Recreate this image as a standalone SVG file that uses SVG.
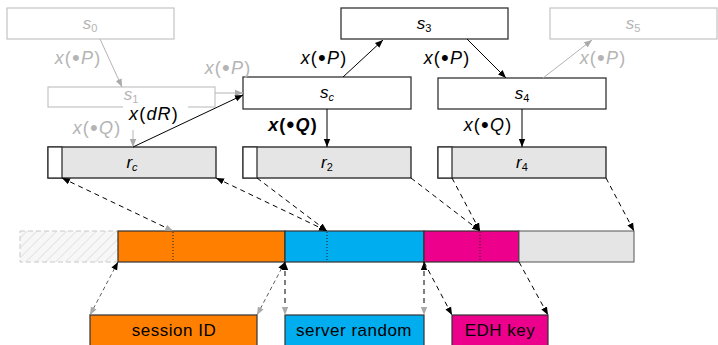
<svg xmlns="http://www.w3.org/2000/svg" width="718" height="345" viewBox="0 0 718 345">
<style>
.box{fill:#fff;stroke:#333;stroke-width:1.3}
.gbox{fill:#fff;stroke:#c4c4c4;stroke-width:1.2}
.rbox{fill:#e5e5e5;stroke:#222;stroke-width:1.3}
.t{font-family:"Liberation Sans",Arial,sans-serif;font-size:17px;text-anchor:middle;fill:#000}
.g{fill:#b4b4b4}
.i{font-style:italic}
.sub{font-size:11px}
.b{font-size:22px}
.lbl{font-family:"Liberation Sans",Arial,sans-serif;font-size:18px;text-anchor:middle;fill:#000;letter-spacing:1.2px}
.lbl.g{fill:#b4b4b4}
.bt{font-family:"Liberation Sans",Arial,sans-serif;font-size:17px;text-anchor:middle;fill:#000;letter-spacing:0.5px}
.ln{fill:none;stroke:#000;stroke-width:1}
.gl{fill:none;stroke:#b4b4b4;stroke-width:1}
.dsh{fill:none;stroke:#000;stroke-width:1;stroke-dasharray:5,4}
.dsh2{fill:none;stroke:#333;stroke-width:0.8;stroke-dasharray:4,3}
.dot{stroke:#222;stroke-width:1;stroke-dasharray:1,2}
.seg{stroke:#333;stroke-width:1.2}
</style>
<defs>
<marker id="ab" viewBox="0 0 10 10" refX="10" refY="5" markerWidth="8" markerHeight="8" markerUnits="userSpaceOnUse" orient="auto-start-reverse"><path d="M0,1 L10,5 L0,9 z" fill="#000"/></marker>
<marker id="ag" viewBox="0 0 10 10" refX="10" refY="5" markerWidth="8" markerHeight="8" markerUnits="userSpaceOnUse" orient="auto-start-reverse"><path d="M0,1 L10,5 L0,9 z" fill="#aaa"/></marker>
<pattern id="hatch" patternUnits="userSpaceOnUse" width="7" height="7" patternTransform="rotate(45)"><rect width="7" height="7" fill="#f7f7f7"/><line x1="0" y1="0" x2="0" y2="7" stroke="#d6d6d6" stroke-width="1.2"/></pattern>
</defs>

<g id="s0"><rect class="gbox" x="7" y="8" width="167" height="31"/><text class="t g" x="90" y="29"><tspan class="i">s</tspan><tspan class="sub" dy="3">0</tspan></text></g>
<g id="s1"><rect class="gbox" x="48" y="87" width="167" height="20"/><text class="t g" x="131" y="100"><tspan class="i">s</tspan><tspan class="sub" dy="3">1</tspan></text></g>
<g id="sc"><rect class="box" x="243" y="77" width="168" height="32"/><text class="t" x="327" y="98"><tspan class="i">s</tspan><tspan class="sub i" dy="3">c</tspan></text></g>
<g id="s3"><rect class="box" x="341" y="8" width="167" height="31"/><text class="t" x="424" y="29"><tspan class="i">s</tspan><tspan class="sub" dy="3">3</tspan></text></g>
<g id="s4"><rect class="box" x="438" y="78" width="168" height="31"/><text class="t" x="522" y="99"><tspan class="i">s</tspan><tspan class="sub" dy="3">4</tspan></text></g>
<g id="s5"><rect class="gbox" x="550" y="8" width="167" height="31"/><text class="t g" x="633" y="29"><tspan class="i">s</tspan><tspan class="sub" dy="3">5</tspan></text></g>

<g id="rc"><rect class="rbox" x="48" y="147" width="168" height="31"/><rect class="box" x="48" y="147" width="14" height="31"/><text class="t" x="132" y="168"><tspan class="i">r</tspan><tspan class="sub i" dy="3">c</tspan></text></g>
<g id="r2"><rect class="rbox" x="243" y="147" width="168" height="31"/><rect class="box" x="243" y="147" width="14" height="31"/><text class="t" x="327" y="168"><tspan class="i">r</tspan><tspan class="sub" dy="3">2</tspan></text></g>
<g id="r4"><rect class="rbox" x="438" y="147" width="168" height="31"/><rect class="box" x="438" y="147" width="14" height="31"/><text class="t" x="522" y="168"><tspan class="i">r</tspan><tspan class="sub" dy="3">4</tspan></text></g>

<g id="bar">
<rect x="20" y="231" width="98" height="31" fill="url(#hatch)" stroke="#c8c8c8" stroke-width="1" stroke-dasharray="5,3"/>
<rect class="seg" x="118" y="231" width="167" height="31" fill="#ff8000"/>
<rect class="seg" x="285" y="231" width="139" height="31" fill="#00aeef"/>
<rect class="seg" x="424" y="231" width="95" height="31" fill="#ec008c"/>
<rect x="519" y="231" width="115" height="31" fill="#e5e5e5" stroke="#555" stroke-width="1"/>
<line class="dot" x1="173" y1="232" x2="173" y2="261"/>
<line class="dot" x1="327" y1="232" x2="327" y2="261"/>
<line class="dot" x1="480" y1="232" x2="480" y2="261"/>
</g>

<g id="sessionID"><rect class="seg" x="90" y="315" width="167" height="35" fill="#ff8000"/><text class="bt" x="174" y="336">session ID</text></g>
<g id="serverRandom"><rect class="seg" x="285" y="315" width="139" height="35" fill="#00aeef"/><text class="bt" x="354" y="336">server random</text></g>
<g id="EDHkey"><rect class="seg" x="452" y="315" width="96" height="35" fill="#ec008c"/><text class="bt" x="500" y="336">EDH key</text></g>

<g id="connectors">
<line class="gl" x1="100" y1="39" x2="122" y2="87" marker-end="url(#ag)"/>
<line class="gl" x1="215" y1="93" x2="243" y2="93" marker-end="url(#ag)"/>
<line class="gl" x1="133" y1="107" x2="133" y2="147" marker-end="url(#ag)"/>
<line class="gl" x1="543" y1="78" x2="592" y2="40" marker-end="url(#ag)"/>
<line class="ln" x1="343" y1="77" x2="383" y2="40" marker-end="url(#ab)"/>
<line class="ln" x1="467" y1="39" x2="506" y2="78" marker-end="url(#ab)"/>
<line class="ln" x1="327" y1="109" x2="327" y2="147" marker-end="url(#ab)"/>
<line class="ln" x1="522" y1="109" x2="522" y2="147" marker-end="url(#ab)"/>
<rect x="123" y="104" width="65" height="26" fill="#fff"/>
<line class="ln" x1="133" y1="147" x2="243" y2="95" stroke-width="1.8" marker-end="url(#ab)"/>

<line class="dsh" x1="62" y1="178" x2="173" y2="231" marker-start="url(#ab)" marker-end="url(#ag)"/>
<line class="dsh" x1="216" y1="178" x2="327" y2="231" marker-start="url(#ab)" marker-end="url(#ab)"/>
<line class="dsh" x1="257" y1="178" x2="327" y2="231" marker-end="url(#ab)"/>
<line class="dsh" x1="411" y1="178" x2="480" y2="231" marker-end="url(#ab)"/>
<line class="dsh" x1="452" y1="178" x2="480" y2="231" marker-end="url(#ab)"/>
<line class="dsh" x1="606" y1="178" x2="634" y2="231" marker-end="url(#ab)"/>

<line class="dsh2" x1="118" y1="262" x2="90" y2="315" marker-start="url(#ab)" marker-end="url(#ag)"/>
<line class="dsh2" x1="285" y1="262" x2="257" y2="315" marker-start="url(#ab)" marker-end="url(#ag)"/>
<line class="dsh" x1="285" y1="262" x2="285" y2="315" marker-start="url(#ab)" marker-end="url(#ag)"/>
<line class="dsh" x1="424" y1="262" x2="424" y2="315" marker-start="url(#ab)" marker-end="url(#ag)"/>
<line class="dsh" x1="424" y1="262" x2="452" y2="315" marker-end="url(#ab)"/>
<line class="dsh" x1="519" y1="262" x2="548" y2="315" marker-end="url(#ab)"/>

<text class="lbl g" x="78" y="64"><tspan class="i">x</tspan>(<tspan class="b" dy="1">•</tspan><tspan class="i" dy="-1">P</tspan>)</text>
<text class="lbl g" x="228" y="74"><tspan class="i">x</tspan>(<tspan class="b" dy="1">•</tspan><tspan class="i" dy="-1">P</tspan>)</text>
<text class="lbl" x="324" y="64"><tspan class="i">x</tspan>(<tspan class="b" dy="1">•</tspan><tspan class="i" dy="-1">P</tspan>)</text>
<text class="lbl" x="447" y="64"><tspan class="i">x</tspan>(<tspan class="b" dy="1">•</tspan><tspan class="i" dy="-1">P</tspan>)</text>
<text class="lbl g" x="603" y="64"><tspan class="i">x</tspan>(<tspan class="b" dy="1">•</tspan><tspan class="i" dy="-1">P</tspan>)</text>
<text class="lbl g" x="97" y="134"><tspan class="i">x</tspan>(<tspan class="b" dy="1">•</tspan><tspan class="i" dy="-1">Q</tspan>)</text>
<text class="lbl" x="154" y="120"><tspan class="i">x</tspan>(<tspan class="i">dR</tspan>)</text>
<text class="lbl" x="293" y="131" font-weight="bold"><tspan class="i">x</tspan>(<tspan class="b" dy="1">•</tspan><tspan class="i" dy="-1">Q</tspan>)</text>
<text class="lbl" x="488" y="131"><tspan class="i">x</tspan>(<tspan class="b" dy="1">•</tspan><tspan class="i" dy="-1">Q</tspan>)</text>
</g>
</svg>
